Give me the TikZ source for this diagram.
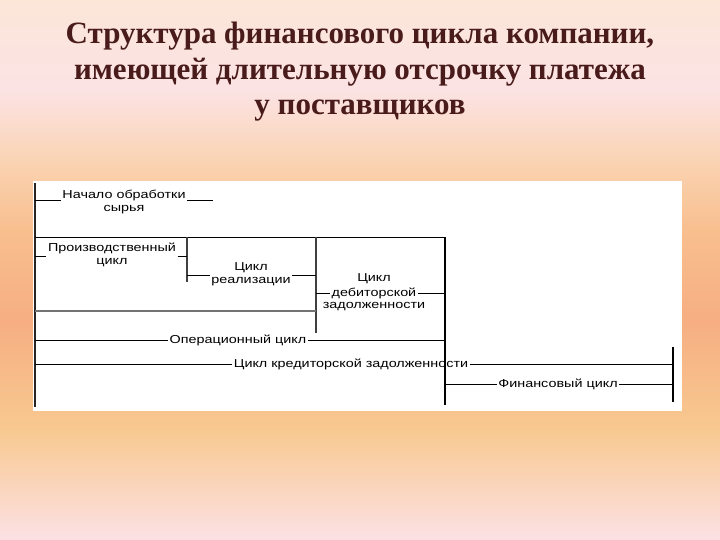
\documentclass[tikz,border=0pt]{standalone}
\usepackage{fontspec}
\setmainfont{Liberation Serif}
\newfontfamily\diagfont[FakeStretch=1.25]{Liberation Sans}
\usetikzlibrary{positioning}

\definecolor{bgtop}{HTML}{FBE6D8}
\definecolor{bgrose}{HTML}{FBE3E4}
\definecolor{bgpeach}{HTML}{FAD2B0}
\definecolor{bgorange}{HTML}{F8BF8F}
\definecolor{bgsalmon}{HTML}{F6AE82}
\definecolor{bgyellow}{HTML}{F8C990}
\definecolor{bgpink}{HTML}{FCE1E6}
\definecolor{titlebrown}{HTML}{4A1B1B}

\begin{document}
\begin{tikzpicture}[x=1pt, y=-1pt,
    lbl/.style={font=\diagfont\fontsize{11.5}{13}\selectfont, inner sep=1.5pt, align=center},
    thin rule/.style={line width=0.8pt},
    bar/.style={line width=1.5pt, black!75},
    title/.style={font=\fontsize{31}{35.5}\selectfont\bfseries, text=titlebrown, align=center}]

  \useasboundingbox (0,0) rectangle (720,540);
  \foreach \ya/\yb/\ca/\cb in {0/90/bgtop/bgrose, 90/165/bgrose/bgpeach, 165/230/bgpeach/bgorange,
      230/320/bgorange/bgsalmon, 320/430/bgsalmon/bgyellow, 430/540/bgyellow/bgpink}
    \fill[top color=\ca, bottom color=\cb] (0,\ya) rectangle (720,\yb+0.6);

  \node[title] (title) at (360,72) {Структура финансового цикла компании,\\имеющей длительную отсрочку платежа\\у поставщиков};

  \fill[white] (33,181) rectangle (682,411);

  \coordinate (edge top) at (35,183);
  \coordinate (edge bottom) at (35,407);
  \draw[line width=1.4pt, black!85] (edge top) -- (edge bottom);

  \node[lbl] (raw) at (124,202) {Начало обработки\\сырья};
  \coordinate (raw left) at (35,200);
  \coordinate (raw right) at (213,200);
  \draw[thin rule] (raw left) -- (raw left -| raw.west) (raw.east |- raw right) -- (raw right);

  \coordinate (prod top) at (187,237);
  \coordinate (prod bottom) at (187,282);
  \coordinate (real top) at (316,237);
  \coordinate (real bottom) at (316,333);
  \coordinate (deb top) at (445,237);
  \coordinate (deb bottom) at (445,405);
  \coordinate (fin top) at (673,347);
  \coordinate (fin bottom) at (673,402);
  \coordinate (cycle left) at (35,237);
  \draw[thin rule] (cycle left) -- (deb top);
  \draw[bar] (prod top) -- (prod bottom);
  \draw[bar] (real top) -- (real bottom);
  \draw[line width=1.2pt] (deb top) -- (deb bottom);
  \draw[line width=1.2pt] (fin top) -- (fin bottom);

  \node[lbl] (prod) at (112,255) {Производственный\\цикл};
  \coordinate (prod left) at (35,256);
  \draw[thin rule] (prod left) -- (prod left -| prod.west) (prod.east |- prod left) -- (prod left -| prod top);

  \node[lbl] (real) at (251,274) {Цикл\\реализации};
  \coordinate (real left) at (187,275);
  \draw[thin rule] (real left) -- (real left -| real.west) (real.east |- real left) -- (real left -| real top);

  \coordinate (stock left) at (35,311);
  \draw[line width=2pt, black!55] (stock left) -- (stock left -| real top);

  \node[lbl] (deb) at (374,293) {дебиторской};
  \node[lbl, above=0pt of deb] (deb head) {Цикл};
  \node[lbl, below=0pt of deb] (deb tail) {задолженности};
  \draw[thin rule] (deb.west -| real top) -- (deb.west) (deb.east) -- (deb.east -| deb top);

  \node[lbl] (op) at (238,340) {Операционный цикл};
  \draw[thin rule] (op.west -| edge top) -- (op.west) (op.east) -- (op.east -| deb top);

  \node[lbl] (cred) at (351,364) {Цикл кредиторской задолженности};
  \draw[thin rule] (cred.west -| edge top) -- (cred.west) (cred.east) -- (cred.east -| fin top);

  \node[lbl] (fin) at (558,384) {Финансовый цикл};
  \draw[thin rule] (fin.west -| deb top) -- (fin.west) (fin.east) -- (fin.east -| fin top);

\end{tikzpicture}
\end{document}
